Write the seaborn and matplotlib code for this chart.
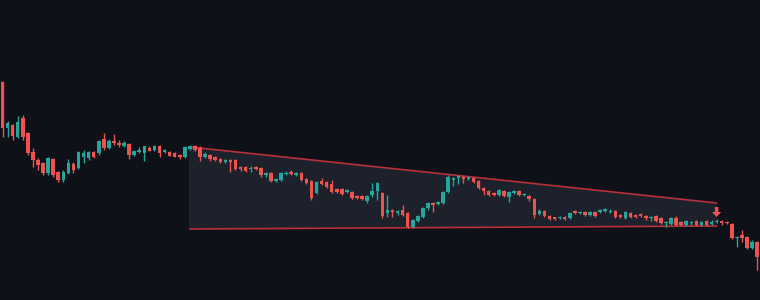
import matplotlib
matplotlib.use("Agg")
import matplotlib.pyplot as plt
import seaborn as sns
import numpy as np
import pandas as pd

opens = [218,172,175,163,182,167,148,140,137,127,141,128,120,127,136,132,143,142,148,147,
         161,152,159,157,154,156,145,148,147,152,150,154,148,148,147,145,143,151,154,152,
         143,145,143,141,138,140,140,133,133,131,133,132,125,127,119,120,126,128,125,127,
         121,119,107,119,118,116,111,111,108,108,104,104,99,105,109,107,87,90,87,90,
         87,73,79,83,92,97,96,97,108,120,122,123,121,122,119,112,109,107,105,109,
         103,107,109,105,104,101,86,89,84,83,82,83,82,89,87,88,85,88,88,89,
         88,89,85,82,87,85,86,84,82,84,82,77,76,82,78,75,77,79,75,79,
         76,78,79,78,76,62,65,63,52,58]
highs = [219,179,176,184,185,168,152,142,138,143,142,129,130,141,138,149,150,149,149,160,
         167,161,166,160,159,157,150,153,154,154,155,155,151,149,148,146,154,155,155,154,
         148,146,144,142,141,141,141,134,134,134,134,133,128,128,122,128,129,130,128,128,
         122,120,119,122,119,120,112,112,111,109,105,105,105,117,118,108,105,91,90,95,
         88,81,85,93,98,98,99,109,125,123,125,124,124,123,120,113,110,108,111,110,
         109,110,110,107,105,102,91,90,85,83,84,84,88,90,89,89,89,89,91,92,
         91,90,86,89,88,86,87,85,84,85,83,79,83,84,79,80,79,80,79,80,
         80,81,80,79,77,64,70,64,60,59]
lows = [163,163,160,162,160,145,133,130,125,125,123,118,118,126,127,131,137,140,142,145,
        150,151,155,153,153,141,144,147,139,149,149,143,147,144,143,141,142,150,149,139,
        142,139,139,137,137,128,130,129,128,128,130,123,123,118,118,119,125,125,124,119,
        116,100,106,115,112,107,107,105,107,101,101,100,97,103,100,82,83,83,85,84,
        72,72,78,82,90,88,95,96,107,114,116,117,120,117,111,105,104,104,104,103,
        98,106,104,104,99,82,85,83,80,80,81,80,81,86,86,84,84,83,87,88,
        87,82,82,81,82,82,83,80,79,78,76,73,75,74,74,74,75,74,74,74,
        75,77,75,76,61,53,58,51,51,30]
closes = [172,177,164,178,163,147,140,135,127,142,125,120,128,137,130,148,147,148,143,159,
          152,159,157,155,157,145,149,150,154,149,154,147,150,144,143,143,153,154,150,143,
          146,141,140,138,140,138,131,131,129,132,131,125,127,119,121,127,127,126,127,120,
          117,102,118,116,113,108,108,106,110,102,102,101,104,109,117,84,90,88,89,85,
          73,80,84,92,97,95,98,108,123,122,124,121,123,118,112,109,105,105,110,104,
          108,109,105,106,101,85,89,84,81,81,83,81,87,87,88,85,88,84,90,91,
          89,83,83,88,83,83,84,82,83,79,77,78,82,75,75,79,78,75,78,75,
          78,79,77,77,62,63,62,52,58,43]

wedge_idx = [37, 141]
wedge_upper = [153, 97]
wedge_lower = [71, 74]
signal_idx = 141
signal_top = 93
signal_tip = 83

BG = "#0e1118"
UP = "#26a69a"
DOWN = "#ef5350"
LINE = "#b8303a"
FILL = "#1d212c"

sns.set_theme(style="dark")
plt.rcParams['font.family'] = ['DejaVu Sans']

df = pd.DataFrame({"i": np.arange(len(opens)), "open": opens, "high": highs,
                   "low": lows, "close": closes})
df["up"] = df["close"] >= df["open"]
df["color"] = np.where(df["up"], UP, DOWN)
df["bottom"] = np.minimum(df["open"], df["close"])
df["height"] = np.maximum(np.abs(df["close"] - df["open"]), 1.0)

fig = plt.figure(figsize=(7.6, 3.0), dpi=100)
fig.patch.set_facecolor(BG)
ax = fig.add_axes([0, 0, 1, 1])
ax.set_facecolor(BG)

# wedge fill and lines
ax.fill([wedge_idx[0] - 0.2, wedge_idx[1], wedge_idx[1], wedge_idx[0] - 0.2],
        [wedge_upper[0], wedge_upper[1], wedge_lower[1], wedge_lower[0]],
        color=FILL, zorder=1, lw=0)
wedge_df = pd.DataFrame({"i": wedge_idx * 2,
                         "p": wedge_upper + wedge_lower,
                         "line": ["upper", "upper", "lower", "lower"]})
sns.lineplot(data=wedge_df, x="i", y="p", units="line", estimator=None,
             color=LINE, lw=1.2, ax=ax, zorder=2, legend=False)

# wicks
ax.vlines(df["i"], df["low"], df["high"], colors=df["color"], lw=1.0, zorder=3)
# bodies
ax.bar(df["i"], df["height"], bottom=df["bottom"], width=0.7,
       color=df["color"], lw=0, zorder=4)

# signal arrow
ax.arrow(signal_idx, signal_top, 0, signal_tip - signal_top, width=0.7,
         head_width=1.8, head_length=5, length_includes_head=True,
         color=DOWN, lw=0, zorder=5)

ax.set_xlim(-0.494, 149.56)
ax.set_ylim(0, 300)
ax.set_xlabel("")
ax.set_ylabel("")
ax.set_xticks([])
ax.set_yticks([])
for s in ax.spines.values():
    s.set_visible(False)
ax.grid(False)

fig.savefig("out.png", dpi=100, facecolor=BG)
